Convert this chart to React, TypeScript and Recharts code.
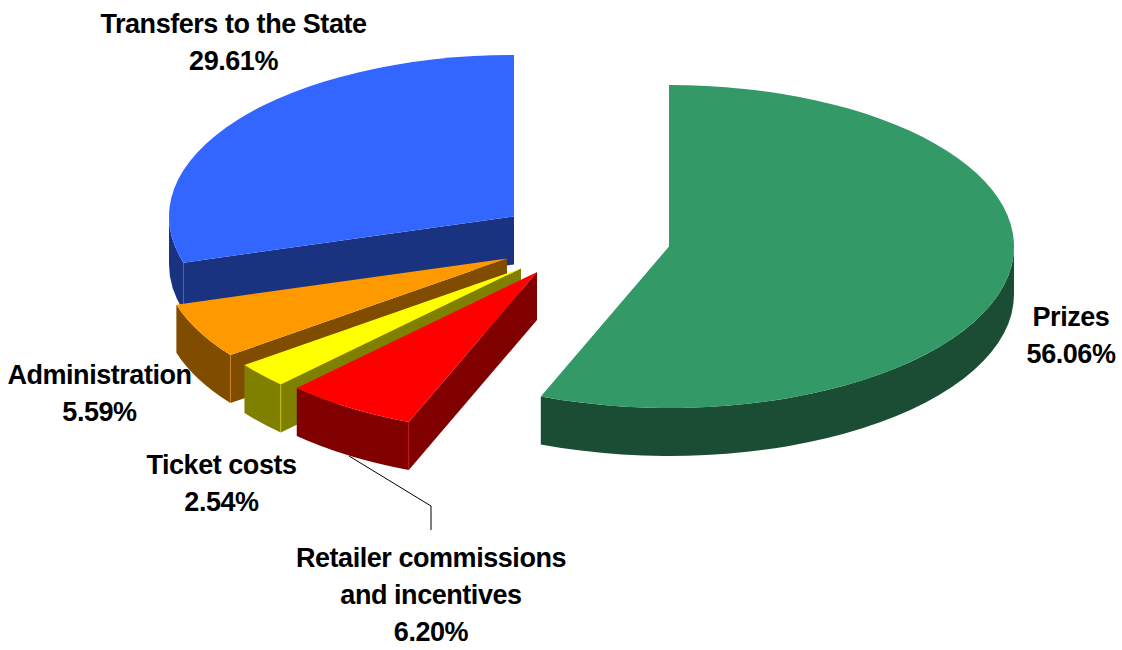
import React from 'react';
import { PieChart, Pie } from 'recharts';

const categories = ['Transfers to the State', 'Administration', 'Ticket costs', 'Retailer commissions and incentives', 'Prizes'];
const shares = [29.61, 5.59, 2.54, 6.2, 56.06];
const chartData = categories.map((name, i) => ({ name, value: shares[i] }));

const topColors = ['#3366FF', '#FF9900', '#FFFF00', '#FF0000', '#339966'];
const wallColors = ['#1A3380', '#804D00', '#808000', '#800000', '#1A4D33'];

// how far each slice is pulled out of the pie, in px
const explode = [
  [0, 0],
  [-7, 42],
  [7, 52],
  [23, 55.5],
  [155, 30],
];
const labelLines = [
  ['Transfers to the State', '29.61%'],
  ['Administration', '5.59%'],
  ['Ticket costs', '2.54%'],
  ['Retailer commissions', 'and incentives', '6.20%'],
  ['Prizes', '56.06%'],
];
const labelAnchors = [
  [233.5, 33],
  [99.5, 384],
  [221.5, 474],
  [431, 567],
  [1071, 326],
];

const TILT = 161.5 / 345;
const DEPTH = 48;
const FONT = '"Liberation Sans", Arial, sans-serif';

const rad = (d: number) => (d * Math.PI) / 180;

// t is measured clockwise from 12 o'clock, on the squashed ellipse
const rimPoint = (cx: number, cy: number, r: number, t: number, drop = 0) =>
  [cx + r * Math.sin(rad(t)), cy - r * TILT * Math.cos(rad(t)) + drop];

const arcTo = (r: number, p: number[], sweep: number, large = 0) =>
  `A${r} ${r * TILT} 0 ${large} ${sweep} ${p[0]} ${p[1]}`;

const Slice3D = (props: any) => {
  const { cx, cy, outerRadius: r, startAngle, endAngle, index } = props;
  const i = index ?? categories.indexOf(props.name);
  const x = cx + explode[i][0];
  const y = cy + explode[i][1];
  // pie runs counter-clockwise from the top
  const hi = 360 - (startAngle - 90);
  const lo = 360 - (endAngle - 90);

  const a = rimPoint(x, y, r, lo);
  const b = rimPoint(x, y, r, hi);
  const large = hi - lo > 180 ? 1 : 0;
  const top = `M${x} ${y}L${a[0]} ${a[1]}${arcTo(r, b, 1, large)}Z`;

  // radial wall on the leading edge
  const aLow = rimPoint(x, y, r, lo, DEPTH);
  const cut = `M${x} ${y}L${a[0]} ${a[1]}L${aLow[0]} ${aLow[1]}L${x} ${y + DEPTH}Z`;

  // front part of the outer rim
  const from = Math.max(lo, 90);
  const to = Math.min(hi, 270);
  let rim = '';
  if (to > from) {
    const p = rimPoint(x, y, r, from);
    const q = rimPoint(x, y, r, to);
    const pLow = rimPoint(x, y, r, from, DEPTH);
    const qLow = rimPoint(x, y, r, to, DEPTH);
    rim = `M${p[0]} ${p[1]}${arcTo(r, q, 1)}L${qLow[0]} ${qLow[1]}${arcTo(r, pLow, 0)}Z`;
  }

  return (
    <g>
      <path d={cut} fill={wallColors[i]} />
      {rim && <path d={rim} fill={wallColors[i]} />}
      <path d={top} fill={topColors[i]} />
      {i < 4 && (
        // faint seam where the walls meet
        <line x1={a[0]} y1={a[1]} x2={aLow[0]} y2={aLow[1]} stroke={topColors[i]} strokeOpacity={0.55} strokeWidth={0.8} />
      )}
    </g>
  );
};

const SliceLabel = (props: any) => {
  const i = props.index;
  const [x, y] = labelAnchors[i];
  return (
    <g>
      {labelLines[i].map((line, n) => (
        <text
          key={n}
          x={x}
          y={y + n * 37}
          textAnchor="middle"
          fontFamily={FONT}
          fontWeight="bold"
          fontSize={27}
          letterSpacing={-0.45}
          fill="#000"
        >
          {line}
        </text>
      ))}
      {i === 3 && <polyline points="349,456 431,506 431,530" fill="none" stroke="#000" strokeWidth={1} />}
    </g>
  );
};

export default function App() {
  return (
    <div style={{ position: 'absolute', left: 0, top: 0, width: 1122, height: 650, background: '#fff' }}>
      <PieChart width={1122} height={650} margin={{ top: 0, right: 0, bottom: 0, left: 0 }}>
        <Pie
          data={chartData}
          dataKey="value"
          nameKey="name"
          cx={514}
          cy={216.5}
          innerRadius={0}
          outerRadius={345}
          startAngle={90}
          endAngle={450}
          paddingAngle={0}
          stroke="none"
          shape={Slice3D}
          label={SliceLabel}
          labelLine={false}
          isAnimationActive={false}
        />
      </PieChart>
    </div>
  );
}
